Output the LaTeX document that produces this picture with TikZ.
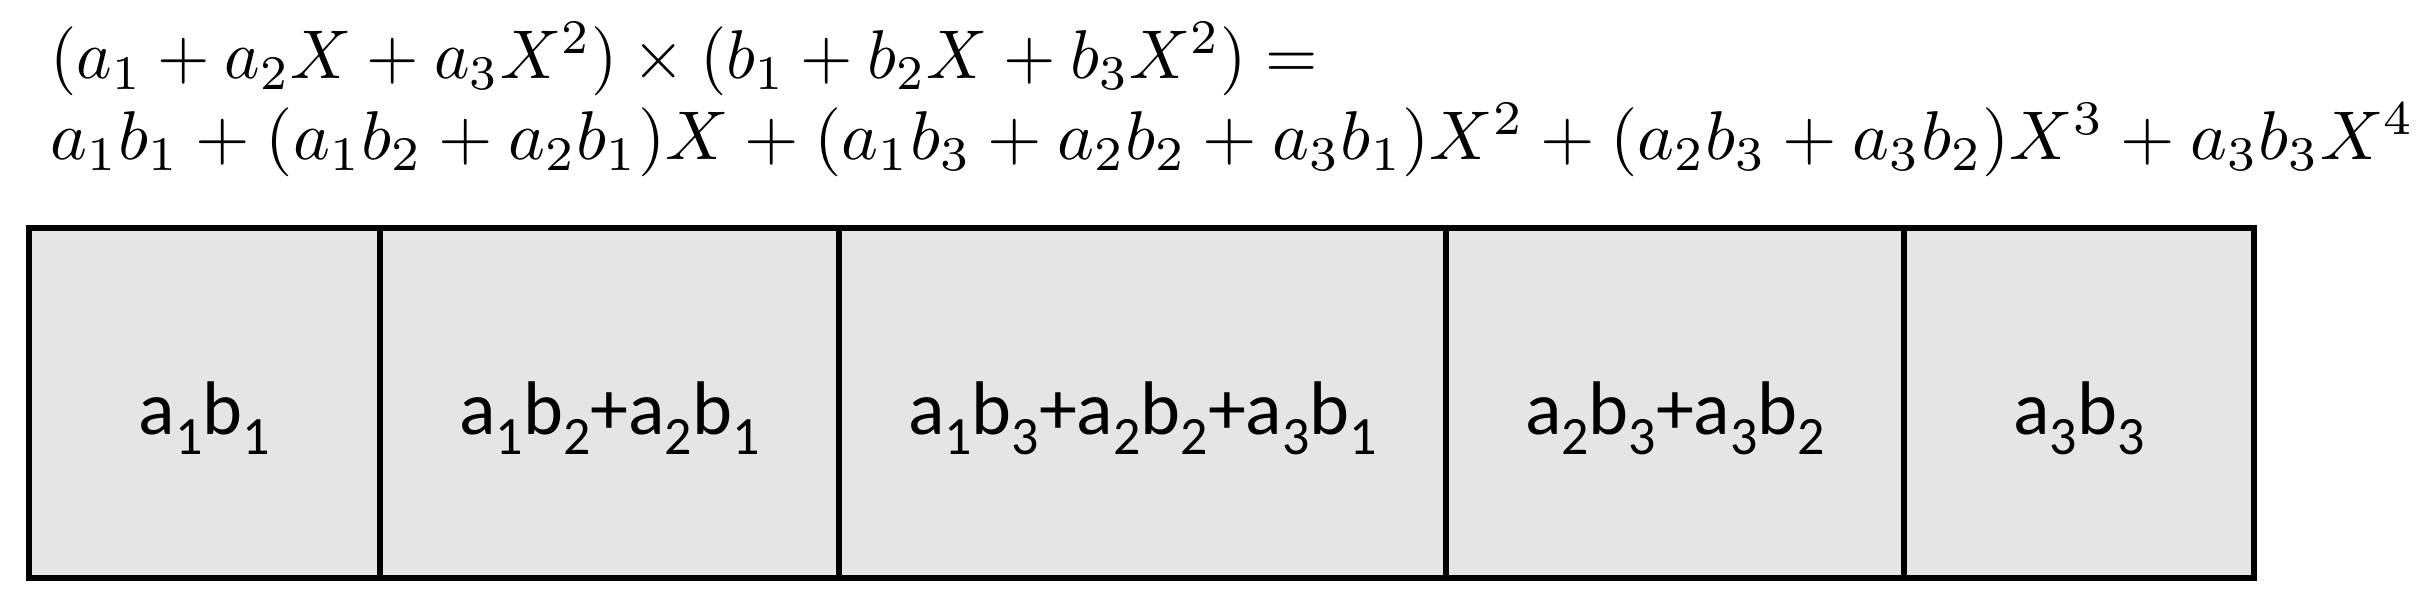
\documentclass[tikz,border=0pt]{standalone}
\usepackage{graphicx}
\usepackage{fontspec}
\newfontfamily\cellfont{Carlito}
\newcommand\sbs[1]{\raisebox{-10pt}{\fontsize{27}{27}\selectfont #1}}
\begin{document}
\begin{tikzpicture}[x=1pt,y=1pt,
  cell/.style={draw=black,line width=3pt,fill=gray!20,rectangle,minimum height=175pt,inner sep=0pt,text height=40pt,text depth=8pt,font=\cellfont\fontsize{38}{42}\selectfont},
  eqn/.style={anchor=base west,inner sep=0pt}]
\useasboundingbox (0,0) rectangle (1218,304);
\node[cell,minimum width=175.5pt] (c1) at (102.25,102.5) {a\sbs{1}b\sbs{1}};
\node[cell,minimum width=229.5pt] (c2) at (304.75,102.5) {a\sbs{1}b\sbs{2}+a\sbs{2}b\sbs{1}};
\node[cell,minimum width=303.5pt] (c3) at (571.25,102.5) {a\sbs{1}b\sbs{3}+a\sbs{2}b\sbs{2}+a\sbs{3}b\sbs{1}};
\node[cell,minimum width=229pt] (c4) at (837.5,102.5) {a\sbs{2}b\sbs{3}+a\sbs{3}b\sbs{2}};
\node[cell,minimum width=175pt] (c5) at (1039.5,102.5) {a\sbs{3}b\sbs{3}};
\node[eqn] (l1) at (25,264.5) {\scalebox{3.37}[3.45]{$(a_1+a_2X+a_3X^2)\times(b_1+b_2X+b_3X^2)=$}};
\node[eqn] (l2) at (25,224) {\scalebox{3.5}[3.45]{$a_1b_1+(a_1b_2+a_2b_1)X+(a_1b_3+a_2b_2+a_3b_1)X^2+(a_2b_3+a_3b_2)X^3+a_3b_3X^4$}};
\end{tikzpicture}
\end{document}
